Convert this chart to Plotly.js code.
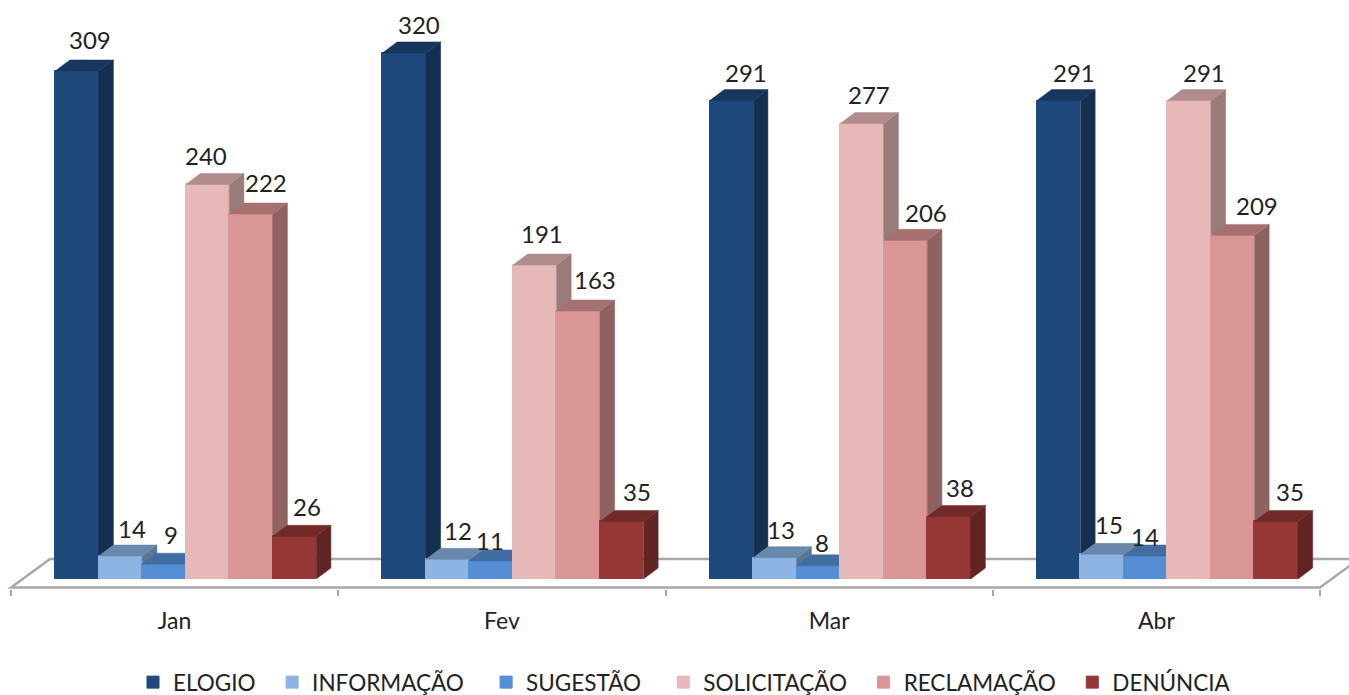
<!DOCTYPE html>
<html>
<head>
<meta charset="utf-8">
<script src="https://cdn.plot.ly/plotly-3.0.1.min.js"></script>
<style>html,body{margin:0;padding:0;background:#fff}#c{width:1349px;height:695px}</style>
</head>
<body>
<div id="c"></div>
<script>
var months = ["Jan", "Fev", "Mar", "Abr"];
var seriesNames = ["ELOGIO", "INFORMAÇÃO", "SUGESTÃO", "SOLICITAÇÃO", "RECLAMAÇÃO", "DENÚNCIA"];
var elogio = [309, 320, 291, 291];
var informacao = [14, 12, 13, 15];
var sugestao = [9, 11, 8, 14];
var solicitacao = [240, 191, 277, 291];
var reclamacao = [222, 163, 206, 209];
var denuncia = [26, 35, 38, 35];
var seriesValues = [elogio, informacao, sugestao, solicitacao, reclamacao, denuncia];

var frontColors = ["#1F497D", "#8DB4E2", "#558ED5", "#E6B9B8", "#D99694", "#953735"];
var topColors   = ["#17375E", "#6A88AC", "#416DA3", "#B08D8C", "#A57170", "#722A29"];
var sideColors  = ["#142F50", "#5B7594", "#38608F", "#997B7A", "#8E6261", "#612423"];

// hand-placed label nudges in pixels, [series][month]
var labelDx = [[13,15,15,15],[11.5,10.5,6,6.5],[7,-1,3.5,-1],[-1,7,7,15],[15.5,16.5,21,24.5],[13,15,11.5,14]];
var labelDy = [[30,27,27,27],[26,27,27,28],[28,19,22,18],[27,30,28,27],[30,30,26,28],[28,28,27.5,28]];
var labelLift = 1.5;
var legendPadding = [2, 3, 3, 2, 2, 0];

var W = 1349, H = 695;
var pxPerX = 327.25, pxPerY = 1.644;
var x0Px = 11, y0Px = 579, axisPx = 589;
var xRange = [-x0Px / pxPerX, (W - x0Px) / pxPerX];
var yRange = [-(axisPx - y0Px) / pxPerY, y0Px / pxPerY];
var groupStart = 44.2 / pxPerX, barW = 43.5 / pxPerX;
var depthX = 14.7 / pxPerX, depthY = 11 / pxPerY;

var traces = [], annotations = [];
seriesValues.forEach(function (vals, k) {
  var yName = k === 0 ? "y" : "y" + (k + 1);
  var centers = months.map(function (m, i) { return i + groupStart + (k + 0.5) * barW; });
  traces.push({
    type: "bar", name: seriesNames[k] + "\u00A0".repeat(legendPadding[k]), x: centers, y: vals, width: barW, xaxis: "x", yaxis: yName,
    marker: { color: frontColors[k], line: { color: frontColors[k], width: 1 } },
    hoverinfo: "name+y", showlegend: true
  });
  var sx = [], sy = [], tx = [], ty = [];
  centers.forEach(function (c, i) {
    var l = c - barW / 2, r = c + barW / 2, v = vals[i];
    tx.push(l, r, r + depthX, l + depthX, l, null);
    ty.push(v, v, v + depthY, v + depthY, v, null);
    sx.push(r, r + depthX, r + depthX, r, r, null);
    sy.push(0, depthY, v + depthY, v, 0, null);
    annotations.push({
      x: c, y: v, xref: "x", yref: "y", text: String(v), showarrow: false,
      xanchor: "center", yanchor: "middle", xshift: labelDx[k][i], yshift: labelDy[k][i] + labelLift,
      font: { family: "Lato, sans-serif", size: 24, color: "#222222" }
    });
  });
  [[sx, sy, sideColors[k]], [tx, ty, topColors[k]]].forEach(function (f) {
    traces.push({
      type: "scatter", mode: "lines", x: f[0], y: f[1], xaxis: "x", yaxis: yName,
      fill: "toself", fillcolor: f[2], line: { color: f[2], width: 0.5 },
      hoverinfo: "skip", showlegend: false
    });
  });
});

var floorFrontY = yRange[0] + 1.5 / pxPerY, floorBackY = (y0Px - 559) / pxPerY;
var floorBackL = 39 / pxPerX, floorBackR = 4 + 39 / pxPerX;
var layout = {
  width: W, height: H, margin: { l: 0, r: 0, t: 0, b: H - axisPx, pad: 0, autoexpand: false },
  paper_bgcolor: "#ffffff", plot_bgcolor: "#ffffff", bargap: 0, showlegend: true,
  xaxis: {
    range: xRange, showgrid: false, zeroline: false, showline: false, ticks: "", automargin: false,
    tickmode: "array", tickvals: months.map(function (m, i) { return i + 0.5; }), ticktext: months,
    tickfont: { family: "Lato, sans-serif", size: 23, color: "#222222" }, ticklabelstandoff: 16,
    minor: { tickmode: "array", tickvals: [0, 1, 2, 3, 4], ticks: "outside", ticklen: 6, tickwidth: 2, tickcolor: "#A6A6A6", showgrid: false }
  },
  yaxis: { range: yRange, visible: false, showgrid: false, zeroline: false },
  legend: {
    orientation: "h", x: 133 / W, xanchor: "left", y: -(661 - axisPx) / axisPx, yanchor: "top",
    bgcolor: "rgba(255,255,255,0)",
    font: { family: "Lato, sans-serif", size: 22.5, color: "#222222" }, traceorder: "normal", itemclick: false, itemdoubleclick: false
  },
  shapes: [{
    type: "path", layer: "below", xref: "x", yref: "y",
    path: "M0," + floorFrontY + "L" + floorBackL + "," + floorBackY + "L" + floorBackR + "," + floorBackY + "L4," + floorFrontY + "Z",
    line: { color: "#A8A8A8", width: 2.5 }, fillcolor: "#ffffff"
  }],
  annotations: annotations
};
for (var k = 2; k <= 6; k++) {
  layout["yaxis" + k] = { range: yRange, visible: false, showgrid: false, zeroline: false, overlaying: "y" };
}
Plotly.newPlot("c", traces, layout, { displayModeBar: false, staticPlot: false });
</script>
</body>
</html>
